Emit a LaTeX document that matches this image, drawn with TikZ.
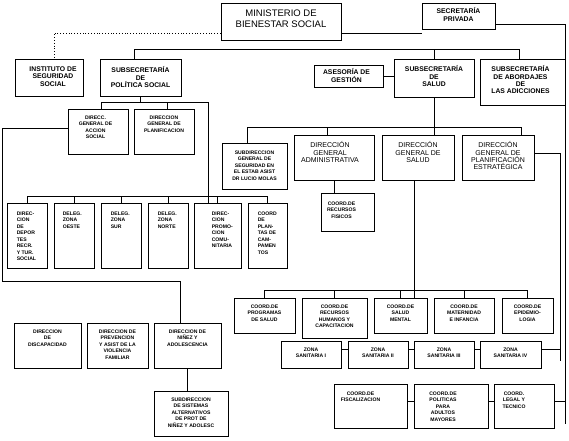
\documentclass[tikz,border=0pt]{standalone}
\usepackage{fontspec}
\setmainfont{Liberation Sans}
\begin{document}
\begin{tikzpicture}[x=1pt,y=-1pt,
        box/.style={draw,line width=0.8pt,inner sep=0pt},
        lnk/.style={line width=0.8pt},
        tbig/.style={font=\fontsize{9.5}{11}\selectfont,align=center,anchor=north,inner sep=0pt},
        tmid/.style={font=\fontsize{7}{7.3}\selectfont,align=center,anchor=north,inner sep=0pt},
        tmidb/.style={tmid,font=\fontsize{6.8}{7.3}\selectfont\bfseries},
        tsml/.style={font=\fontsize{5.1}{6.5}\selectfont\bfseries,align=center,anchor=north,inner sep=0pt},
        tlft/.style={tsml,align=left,anchor=north west}]
        \useasboundingbox (0,0) rectangle (569,440);
        % top
        \node[box,minimum width=120,minimum height=37] (min) at (281,21.5) {};\node[tbig] (min-t) at ([yshift=-7]min.north) {MINISTERIO DE\\BIENESTAR SOCIAL};
        \node[box,minimum width=73,minimum height=26] (sec) at (458.5,16) {};\node[tmidb] (sec-t) at ([yshift=-5]sec.north) {SECRETARÍA\\PRIVADA};
        \node[box,minimum width=68,minimum height=37] (inst) at (49,77.5) {};\node[tmidb] (inst-t) at ([xshift=4,yshift=-8]inst.north) {INSTITUTO DE\\SEGURIDAD\\SOCIAL};
        \node[box,minimum width=81,minimum height=37] (sps) at (140.5,77.5) {};\node[tmidb] (sps-t) at ([yshift=-8]sps.north) {SUBSECRETARÍA\\DE\\POLÍTICA SOCIAL};
        \node[box,minimum width=69,minimum height=22] (ases) at (348.5,76) {};\node[tmidb] (ases-t) at ([xshift=-2,yshift=-4]ases.north) {ASESORÍA DE\\GESTIÓN};
        \node[box,minimum width=80,minimum height=38] (ssal) at (434,78) {};\node[tmidb] (ssal-t) at ([yshift=-7]ssal.north) {SUBSECRETARÍA\\DE\\SALUD};
        \node[box,minimum width=85,minimum height=46] (sabo) at (522.5,82) {};\node[tmidb] (sabo-t) at ([xshift=-2,yshift=-7]sabo.north) {SUBSECRETARÍA\\DE ABORDAJES\\DE\\LAS ADICCIONES};
        % politica social
        \node[box,minimum width=60,minimum height=45] (dgas) at (98,131.5) {};\node[tsml] (dgas-t) at ([xshift=-2.5,yshift=-7]dgas.north) {DIRECC.\\GENERAL DE\\ACCION\\SOCIAL};
        \node[box,minimum width=60,minimum height=45] (dgpl) at (164,131.5) {};\node[tsml] (dgpl-t) at ([yshift=-7]dgpl.north) {DIRECCION\\GENERAL DE\\PLANIFICACION};
        \node[box,minimum width=40,minimum height=65] (ddep) at (27,235.5) {};\node[tlft] (ddep-t) at ([xshift=10,yshift=-9]ddep.north west) {DIREC-\\CION\\DE\\DEPOR\\TES\\RECR.\\Y TUR.\\SOCIAL};
        \node[box,minimum width=40,minimum height=65] (dzo) at (74,235.5) {};\node[tlft] (dzo-t) at ([xshift=9,yshift=-9]dzo.north west) {DELEG.\\ZONA\\OESTE};
        \node[box,minimum width=40,minimum height=65] (dzs) at (121,235.5) {};\node[tlft] (dzs-t) at ([xshift=10,yshift=-9]dzs.north west) {DELEG.\\ZONA\\SUR};
        \node[box,minimum width=40,minimum height=65] (dzn) at (168,235.5) {};\node[tlft] (dzn-t) at ([xshift=10,yshift=-9]dzn.north west) {DELEG.\\ZONA\\NORTE};
        \node[box,minimum width=47,minimum height=65] (dpc) at (217.5,235.5) {};\node[tlft] (dpc-t) at ([xshift=18,yshift=-9]dpc.north west) {DIREC-\\CION\\PROMO-\\CION\\COMU-\\NITARIA};
        \node[box,minimum width=39,minimum height=65] (cpc) at (267.5,235.5) {};\node[tlft] (cpc-t) at ([xshift=10,yshift=-9]cpc.north west) {COORD\\DE\\PLAN-\\TAS DE\\CAM-\\PAMEN\\TOS};
        \node[box,minimum width=67,minimum height=45] (ddis) at (47.5,345.5) {};\node[tsml] (ddis-t) at ([yshift=-7]ddis.north) {DIRECCION\\DE\\DISCAPACIDAD};
        \node[box,minimum width=61,minimum height=45] (dprv) at (117.5,345.5) {};\node[tsml] (dprv-t) at ([yshift=-7]dprv.north) {DIRECCION DE\\PREVENCION\\Y ASIST DE LA\\VIOLENCIA\\FAMILIAR};
        \node[box,minimum width=67,minimum height=45] (dna) at (187.5,345.5) {};\node[tsml] (dna-t) at ([yshift=-7]dna.north) {DIRECCION DE\\NIÑEZ Y\\ADOLESCENCIA};
        \node[box,minimum width=74,minimum height=45] (ssis) at (191,413.5) {};\node[tsml] (ssis-t) at ([yshift=-7]ssis.north) {SUBDIRECCION\\DE SISTEMAS\\ALTERNATIVOS\\DE PROT DE\\NIÑEZ Y ADOLESC};
        % salud
        \node[box,minimum width=65,minimum height=46] (sseg) at (254.5,166) {};\node[tsml] (sseg-t) at ([yshift=-8]sseg.north) {SUBDIRECCION\\GENERAL DE\\SEGURIDAD EN\\EL ESTAB ASIST\\DR LUCIO MOLAS};
        \node[box,minimum width=80,minimum height=45] (dga) at (334,157.5) {};\node[tmid] (dga-t) at ([xshift=-4,yshift=-7]dga.north) {DIRECCIÓN\\GENERAL\\ADMINISTRATIVA};
        \node[box,minimum width=72,minimum height=45] (dgs) at (418,157.5) {};\node[tmid] (dgs-t) at ([yshift=-7]dgs.north) {DIRECCIÓN\\GENERAL DE\\SALUD};
        \node[box,minimum width=72,minimum height=45] (dgpe) at (498,157.5) {};\node[tmid] (dgpe-t) at ([yshift=-7]dgpe.north) {DIRECCIÓN\\GENERAL DE\\PLANIFICACIÓN\\ESTRATÉGICA};
        \node[box,minimum width=53,minimum height=38] (crf) at (347.5,212) {};\node[tsml] (crf-t) at ([xshift=-6,yshift=-9]crf.north) {COORD.DE\\RECURSOS\\FISICOS};
        \node[box,minimum width=61,minimum height=35] (cps) at (264.5,315.5) {};\node[tsml] (cps-t) at ([yshift=-7]cps.north) {COORD.DE\\PROGRAMAS\\DE SALUD};
        \node[box,minimum width=65,minimum height=40] (crh) at (334.5,318) {};\node[tsml] (crh-t) at ([yshift=-7]crh.north) {COORD.DE\\RECURSOS\\HUMANOS Y\\CAPACITACION};
        \node[box,minimum width=53,minimum height=35] (csm) at (400.5,315.5) {};\node[tsml] (csm-t) at ([yshift=-7]csm.north) {COORD.DE\\SALUD\\MENTAL};
        \node[box,minimum width=60,minimum height=35] (cmi) at (464,315.5) {};\node[tsml] (cmi-t) at ([yshift=-7]cmi.north) {COORD.DE\\MATERNIDAD\\E INFANCIA};
        \node[box,minimum width=51,minimum height=35] (cep) at (527.5,315.5) {};\node[tsml] (cep-t) at ([yshift=-7]cep.north) {COORD.DE\\EPIDEMIO-\\LOGIA};
        \node[box,minimum width=60,minimum height=27] (z1) at (311,354.5) {};\node[tsml] (z1-t) at ([yshift=-7]z1.north) {ZONA\\SANITARIA I};
        \node[box,minimum width=60,minimum height=27] (z2) at (378,354.5) {};\node[tsml] (z2-t) at ([yshift=-7]z2.north) {ZONA\\SANITARIA II};
        \node[box,minimum width=60,minimum height=27] (z3) at (444,354.5) {};\node[tsml] (z3-t) at ([yshift=-7]z3.north) {ZONA\\SANITARIA III};
        \node[box,minimum width=61,minimum height=27] (z4) at (510.5,354.5) {};\node[tsml] (z4-t) at ([yshift=-7]z4.north) {ZONA\\SANITARIA IV};
        \node[box,minimum width=73,minimum height=44] (cfis) at (370.5,406) {};\node[tsml] (cfis-t) at ([xshift=-10,yshift=-8]cfis.north) {COORD.DE\\FISCALIZACION};
        \node[box,minimum width=74,minimum height=44] (cpam) at (451,406) {};\node[tsml] (cpam-t) at ([xshift=-8,yshift=-8]cpam.north) {COORD.DE\\POLITICAS\\PARA\\ADULTOS\\MAYORES};
        \node[box,minimum width=60,minimum height=44] (clt) at (524,406) {};\node[tsml] (clt-t) at ([xshift=-10,yshift=-8]clt.north) {COORD.\\LEGAL Y\\TECNICO};
        % bus points
        \coordinate (t1) at (134,49);\coordinate (t2) at (519,49);
        \coordinate (p1) at (101,102);\coordinate (p2) at (208,102);\coordinate (p3) at (167,102);
        \coordinate (q1) at (27,196);\coordinate (l1) at (2,281);
        \coordinate (u1) at (247,127);\coordinate (u2) at (521,127);\coordinate (u3) at (327,127);
        \coordinate (g1) at (414,290);
        \coordinate (ra) at (565,424);\coordinate (rb) at (560,361);
        \coordinate (m1) at ([yshift=-11.5]min.east);\coordinate (s1) at ([yshift=-8]sec.east);
        \coordinate (c1) at ([yshift=5]clt.east);\coordinate (z4r) at ([yshift=5.5]z4.east);
        % connectors
        \draw[lnk,dotted] ([yshift=-11.5]min.west) -| ([xshift=5]inst.north);
        \draw[lnk] (m1) -- (m1 -| sec.west);
        \draw[lnk] (s1) -| (ra);\draw[lnk] (c1) -- (c1 -| ra);
        \draw[lnk] (t1 |- sps.north) -- (t1) -- (t2) -- (t2 |- sabo.north);\draw[lnk] (ssal.north |- t1) -- (ssal.north);
        \draw[lnk] (ases.east) -- (ases.east -| ssal.west);
        \draw[lnk] (sps.south) -- (sps.south |- p1);\draw[lnk] (p1 |- dgas.north) -- (p1) -- (p2) -- (p2 |- dpc.north);\draw[lnk] (p3) -- (p3 |- dgpl.north);
        \draw[lnk] (ddep.north |- q1) -- (cpc.north |- q1);
        \draw[lnk] (ddep.north |- q1) -- (ddep.north);\draw[lnk] (dzo.north |- q1) -- (dzo.north);\draw[lnk] (dzs.north |- q1) -- (dzs.north);
        \draw[lnk] (dzn.north |- q1) -- (dzn.north);\draw[lnk] (dpc.north |- q1) -- (dpc.north);\draw[lnk] (cpc.north |- q1) -- (cpc.north);
        \draw[lnk] ([yshift=3.5]dgas.west) -| (l1) -| ([xshift=-7.5]dna.north);
        \draw[lnk] (dna.south) -- (dna.south |- ssis.north);
        \draw[lnk] (ssal.south) -- (ssal.south |- dgs.north);
        \draw[lnk] (u1 |- sseg.north) -- (u1) -- (u2) -- (u2 |- dgpe.north);\draw[lnk] (u3) -- (u3 |- dga.north);
        \draw[lnk] (dga.south) -- (dga.south |- crf.north);
        \draw[lnk] (g1 |- dgs.south) -- (g1 |- csm.north);
        \draw[lnk] (cps.north |- g1) -- (cep.north |- g1);
        \draw[lnk] (cps.north |- g1) -- (cps.north);\draw[lnk] (crh.north |- g1) -- (crh.north);\draw[lnk] (csm.north |- g1) -- (csm.north);
        \draw[lnk] (cmi.north |- g1) -- (cmi.north);\draw[lnk] (cep.north |- g1) -- (cep.north);
        \draw[lnk] ([yshift=4.5]dgpe.east) -| (rb);
        \draw[lnk] ([yshift=5.5]z1.east) -- ([yshift=5.5]z2.west);\draw[lnk] ([yshift=5.5]z2.east) -- ([yshift=5.5]z3.west);
        \draw[lnk] ([yshift=5.5]z3.east) -- ([yshift=5.5]z4.west);\draw[lnk] (z4r) -- (z4r -| rb);
        \draw[lnk] ([yshift=5]cfis.east) -- ([yshift=5]cpam.west);\draw[lnk] ([yshift=5]cpam.east) -- ([yshift=5]clt.west);
\end{tikzpicture}
\end{document}
